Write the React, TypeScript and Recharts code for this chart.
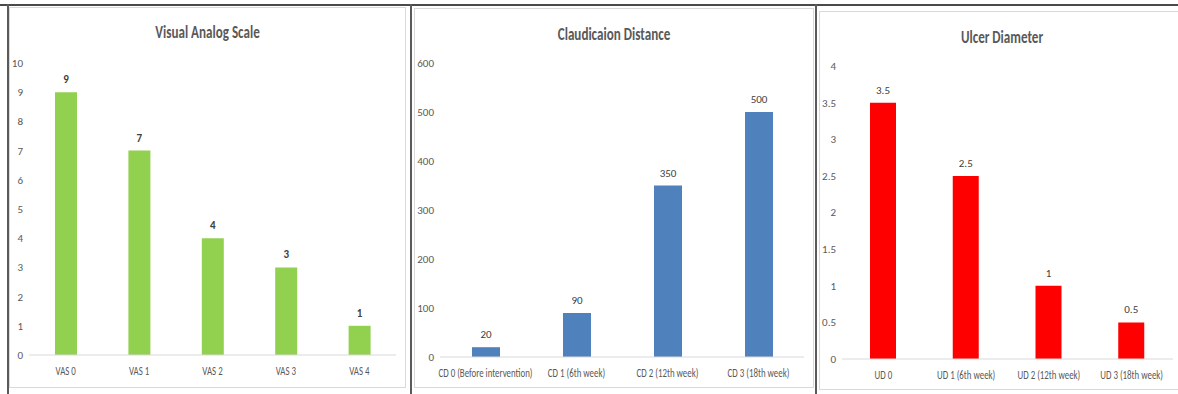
import { BarChart, Bar, XAxis, YAxis, LabelList } from 'recharts';

const vasLabels = ['VAS 0', 'VAS 1', 'VAS 2', 'VAS 3', 'VAS 4'];
const vasValues = [9, 7, 4, 3, 1];
const vasTicks = [0, 1, 2, 3, 4, 5, 6, 7, 8, 9, 10];

const cdLabels = ['CD 0 (Before intervention)', 'CD 1 (6th week)', 'CD 2 (12th week)', 'CD 3 (18th week)'];
const cdValues = [20, 90, 350, 500];
const cdTicks = [0, 100, 200, 300, 400, 500, 600];

const udLabels = ['UD 0', 'UD 1 (6th week)', 'UD 2 (12th week)', 'UD 3 (18th week)'];
const udValues = [3.5, 2.5, 1, 0.5];
const udTicks = [0, 0.5, 1, 1.5, 2, 2.5, 3, 3.5, 4];

const FONT = "Carlito, 'Liberation Sans Narrow', 'DejaVu Sans Condensed', sans-serif";
const TEXT = '#595959';

// excel-ish narrow category labels
function NarrowTick(props: any) {
  const { x, y, payload } = props;
  return (
    <g transform={`translate(${x},${y})`}>
      <text transform="scale(0.74,1)" textAnchor="middle" dy="0.75em" fill={TEXT} fontSize={12} fontFamily={FONT}>
        {payload.value}
      </text>
    </g>
  );
}

type PanelProps = {
  title: string;
  labels: string[];
  values: number[];
  ticks: number[];
  color: string;
  box: { left: number; top: number; width: number; height: number };
  yWidth: number;
  margin: { top: number; right: number; bottom: number; left: number };
  barSize: number;
  boldLabels?: boolean;
  titleTop: number;
  titleShift?: number;
};

function Panel(p: PanelProps) {
  const data = p.labels.map((name, i) => ({ name, value: p.values[i] }));
  return (
    <div style={{ position: 'absolute', ...p.box, border: '1px solid #d9d9d9', boxSizing: 'border-box' }}>
      <div
        style={{
          position: 'absolute',
          left: p.titleShift || 0,
          width: '100%',
          top: p.titleTop,
          textAlign: 'center',
          fontFamily: FONT,
          fontWeight: 'bold',
          fontSize: 17,
          color: TEXT,
          transform: 'scaleX(0.77)',
          transformOrigin: 'center',
        }}
      >
        {p.title}
      </div>
      <div style={{ position: 'absolute', left: -1, top: -1 }}>
        <BarChart width={p.box.width} height={p.box.height} data={data} margin={p.margin}>
          <XAxis
            dataKey="name"
            interval={0}
            tickLine={false}
            tickMargin={5}
            height={25}
            stroke="#d9d9d9"
            tick={<NarrowTick />}
          />
          <YAxis
            width={p.yWidth}
            domain={[p.ticks[0], p.ticks[p.ticks.length - 1]]}
            ticks={p.ticks}
            axisLine={false}
            tickLine={false}
            tickMargin={0}
            tick={{ fill: TEXT, fontSize: 11, fontFamily: FONT }}
          />
          <Bar dataKey="value" fill={p.color} barSize={p.barSize} isAnimationActive={false}>
            <LabelList
              dataKey="value"
              position="top"
              offset={9}
              style={{ fill: '#404040', fontSize: 11, fontFamily: FONT, fontWeight: p.boldLabels ? 'bold' : 'normal' }}
            />
          </Bar>
        </BarChart>
      </div>
    </div>
  );
}

export default function App() {
  return (
    <div style={{ position: 'absolute', left: 0, top: 0, width: 1178, height: 394, background: '#fff', overflow: 'hidden' }}>
      <div style={{ position: 'absolute', left: 0, top: 4, width: 1178, height: 2, background: '#4a4a4a' }} />
      <div style={{ position: 'absolute', left: 7, top: 4, width: 2, height: 390, background: '#5a5a5a' }} />
      <div style={{ position: 'absolute', left: 410, top: 4, width: 2, height: 390, background: '#5a5a5a' }} />
      <div style={{ position: 'absolute', left: 815, top: 4, width: 2, height: 390, background: '#5a5a5a' }} />
      <Panel
        title="Visual Analog Scale"
        labels={vasLabels}
        values={vasValues}
        ticks={vasTicks}
        color="#92D050"
        box={{ left: 9, top: 7, width: 397, height: 381 }}
        yWidth={20}
        margin={{ top: 56, right: 10, bottom: 8, left: 0 }}
        barSize={22}
        boldLabels
        titleTop={14}
      />
      <Panel
        title="Claudicaion Distance"
        labels={cdLabels}
        values={cdValues}
        ticks={cdTicks}
        color="#4F81BD"
        box={{ left: 414, top: 8, width: 400, height: 380 }}
        yWidth={26}
        margin={{ top: 55, right: 10, bottom: 6, left: 0 }}
        barSize={28}
        titleTop={15}
      />
      <Panel
        title="Ulcer Diameter"
        labels={udLabels}
        values={udValues}
        ticks={udTicks}
        color="#FF0000"
        box={{ left: 819, top: 11, width: 362, height: 379 }}
        yWidth={23}
        margin={{ top: 55, right: 8, bottom: 6, left: 0 }}
        barSize={26}
        titleTop={15}
        titleShift={2}
      />
    </div>
  );
}
